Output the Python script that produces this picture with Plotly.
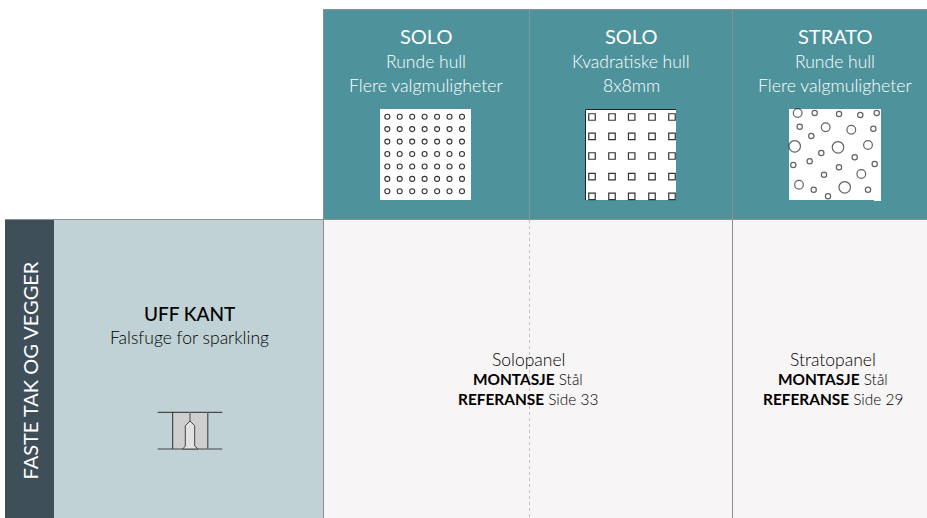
import plotly.graph_objects as go

# ---- texts ----
col_titles = ["SOLO", "SOLO", "STRATO"]
col_line2 = ["Runde hull", "Kvadratiske hull", "Runde hull"]
col_line3 = ["Flere valgmuligheter", "8x8mm", "Flere valgmuligheter"]
col_centers = [426, 631, 835]
row_group = "FASTE TAK OG VEGGER"
row_title = "UFF KANT"
row_sub = "Falsfuge for sparkling"
cell_names = ["Solopanel", "Stratopanel"]
cell_mount = ["Stål", "Stål"]
cell_ref = ["Side 33", "Side 29"]
cell_centers = [528, 833]

# ---- hole patterns (page pixels) ----
round_x = [387.3, 399.7, 412.2, 424.6, 437.1, 449.5, 462]
round_y = [116.7, 129.1, 141.6, 154, 166.5, 178.9, 191.3]
square_x = [592, 612, 631.7, 652, 672]
square_y = [117, 136.3, 156, 176.7, 196.3]
strato_x = [797.7, 814.7, 839, 860.3, 876.7, 799.7, 825.7, 851.3, 873.3, 811.3, 794.7, 838,
            868, 821.3, 854.7, 793.3, 809.7, 839, 874.7, 824, 861.3, 799, 813.7, 844.7, 868, 828]
strato_y = [113, 113, 114, 115, 113, 126.7, 127.3, 129.7, 128.7, 136, 146.3, 147.3,
            145, 153, 157.3, 165, 161.3, 167.3, 164, 174.7, 174, 184.7, 189.7, 187.3, 189.7, 196.3]
strato_d = [8.7, 5.3, 5.3, 5.3, 5.3, 5.3, 8.7, 8.7, 5.3, 5.3, 11.5, 11.5,
            8.7, 5.3, 5.3, 5.3, 5.3, 5.3, 5.3, 5.3, 8.7, 8.7, 5.3, 11.5, 5.3, 5.3]

FONT = "Lato"
TEAL = "#4E939C"
GRID = "#8C8F91"

fig = go.Figure()


def rect(x0, y0, x1, y1, fill, **kw):
    fig.add_shape(type="rect", x0=x0, y0=y0, x1=x1, y1=y1, fillcolor=fill,
                  line=dict(width=0), layer="below", **kw)


def line(x0, y0, x1, y1, color=GRID, width=1, dash="solid"):
    fig.add_shape(type="line", x0=x0, y0=y0, x1=x1, y1=y1, layer="below",
                  line=dict(color=color, width=width, dash=dash))


# panels
rect(323.5, 9.5, 927, 219.5, TEAL)
rect(323.5, 219.5, 927, 518, "#F7F5F6")
rect(5, 219.5, 54, 518, "#3F4F5A")
rect(54, 219.5, 323.5, 518, "#C0D2D6")

# grid lines
line(323.5, 9.5, 927, 9.5)
line(5, 219.5, 927, 219.5)
line(323.5, 9.5, 323.5, 518)
line(529.5, 9.5, 529.5, 219.5, color="#7A9CA2")
line(529.5, 220, 529.5, 518, color="#C4C4C6", dash="dot")
line(732.5, 9.5, 732.5, 518)

# swatches
rect(380, 109, 471, 200, "#FFFFFF")
rect(585, 109, 676, 200, "#FFFFFF")
rect(789, 109, 881, 200, "#FFFFFF")
rect(874, 199, 881, 201, "#FFFFFF")
line(585.5, 109.5, 676, 109.5, color="#222222")
line(585.5, 109.5, 585.5, 200, color="#222222")

# profile drawing
rect(172.7, 412.3, 207.7, 449, "#CFCFCF")
line(157.7, 412.3, 222.3, 412.3, color="#2A2A2A")
line(157.7, 449, 222.3, 449, color="#444444")
line(172.7, 412.3, 172.7, 449, color="#2A2A2A")
line(207.7, 412.3, 207.7, 449, color="#666666", width=1.5)
line(190, 412.3, 190, 421, color="#777777", width=1.5)
fig.add_shape(type="path", layer="below",
              path="M182.7,449 L185.3,446 L185.3,425.7 L190,421 L194.7,425.7 L194.7,446 L198,449 Z",
              fillcolor="#E2E2E2", line=dict(color="#444444", width=1))

# holes
fig.add_trace(go.Scatter(
    x=[x for _ in round_y for x in round_x],
    y=[y for y in round_y for _ in round_x],
    mode="markers", hoverinfo="skip",
    marker=dict(symbol="circle", size=5, color="white", line=dict(color="#333333", width=1.1))))
fig.add_trace(go.Scatter(
    x=[x for _ in square_y for x in square_x],
    y=[y for y in square_y for _ in square_x],
    mode="markers", hoverinfo="skip",
    marker=dict(symbol="square", size=6.5, color="white", line=dict(color="#333333", width=1.2))))
fig.add_trace(go.Scatter(
    x=strato_x, y=strato_y, mode="markers", hoverinfo="skip",
    marker=dict(symbol="circle", size=strato_d, color="white", line=dict(color="#222222", width=1.2))))


def label(x, y, text, size, color, weight=300, angle=0):
    fig.add_annotation(x=x, y=y, text=text, showarrow=False, textangle=angle,
                       xanchor="center", yanchor="middle",
                       font=dict(family=FONT, size=size, color=color, weight=weight))


for cx, a, b, c in zip(col_centers, col_titles, col_line2, col_line3):
    label(cx, 36, a, 20, "#FFFFFF", 400)
    label(cx, 61, b, 17.5, "#FFFFFF")
    label(cx, 85, c, 17.7, "#FFFFFF")

label(29.5, 371, row_group, 20, "#FFFFFF", 400, -90)
label(189, 313, row_title, 19, "#000000", 500)
label(189, 337, row_sub, 17.5, "#000000", 300)

for cx, n, m, r in zip(cell_centers, cell_names, cell_mount, cell_ref):
    label(cx, 359, n, 17.5, "#000000")
    label(cx, 379, f"<b>MONTASJE</b> {m}", 15.4, "#000000")
    label(cx, 399, f"<b>REFERANSE</b> {r}", 15.4, "#000000")

fig.update_layout(
    width=927, height=518, margin=dict(l=0, r=0, t=0, b=0),
    paper_bgcolor="white", plot_bgcolor="white", showlegend=False,
    xaxis=dict(range=[0, 927], visible=False, fixedrange=True),
    yaxis=dict(range=[518, 0], visible=False, fixedrange=True),
)
fig.write_html("out.html", config={"displayModeBar": False},
               post_script="document.body.style.margin='0';document.body.style.overflow='hidden';")
